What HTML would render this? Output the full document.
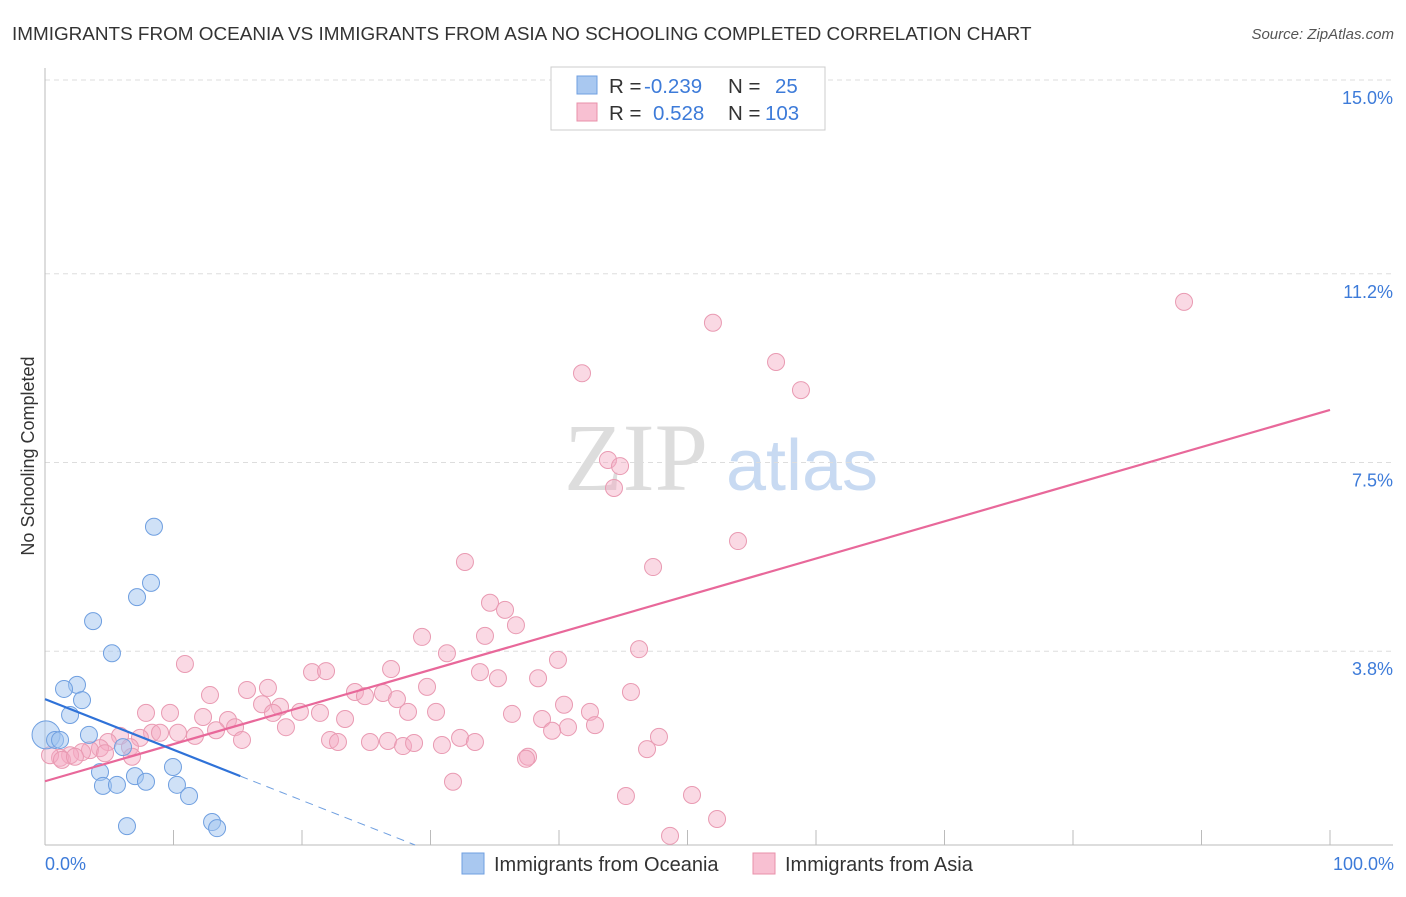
<!DOCTYPE html>
<html><head><meta charset="utf-8"><style>
body{margin:0;background:#fff;font-family:"Liberation Sans",sans-serif}
</style></head><body>
<svg width="1406" height="892" xmlns="http://www.w3.org/2000/svg" id="chart" font-family="Liberation Sans, sans-serif">
<text x="12" y="40" font-size="18.9" fill="#333">IMMIGRANTS FROM OCEANIA VS IMMIGRANTS FROM ASIA NO SCHOOLING COMPLETED CORRELATION CHART</text>
<text x="1394" y="39" font-size="15" fill="#555" font-style="italic" text-anchor="end">Source: ZipAtlas.com</text>
<g>
<text x="636" y="490" font-size="96" font-family="Liberation Serif, serif" fill="#ddd" text-anchor="middle">ZIP</text>
<text x="802" y="490" font-size="72" fill="#c8daf2" text-anchor="middle">atlas</text>
</g>
<g id="grid"></g><g id="axes"></g><g id="marks"></g>
<text transform="translate(34,456) rotate(-90)" font-size="18" fill="#333" text-anchor="middle">No Schooling Completed</text>
<text x="45" y="870" font-size="18" fill="#3d7bd9">0.0%</text>
<text x="1394" y="870" font-size="18" fill="#3d7bd9" text-anchor="end">100.0%</text>
<g>
<rect x="551" y="67" width="274" height="63" fill="#fff" stroke="#ccc"/>
<rect x="577" y="76" width="20" height="18" fill="#a9c8f0" stroke="#6f9fe0"/>
<rect x="577" y="103" width="20" height="18" fill="#f8c0d2" stroke="#e890aa"/>
<text x="609" y="93" font-size="20.5" fill="#333">R = <tspan x="644" fill="#3d7bd9">-0.239</tspan><tspan x="728">N = </tspan><tspan x="775" fill="#3d7bd9">25</tspan></text>
<text x="609" y="120" font-size="20.5" fill="#333">R = <tspan x="653" fill="#3d7bd9">0.528</tspan><tspan x="728">N = </tspan><tspan x="765" fill="#3d7bd9">103</tspan></text>
</g>
<g>
<rect x="462" y="853" width="22" height="21" fill="#a9c8f0" stroke="#6f9fe0"/>
<text x="494" y="871" font-size="20" fill="#333">Immigrants from Oceania</text>
<rect x="753" y="853" width="22" height="21" fill="#f8c0d2" stroke="#e890aa"/>
<text x="785" y="871" font-size="20" fill="#333">Immigrants from Asia</text>
</g>
</svg>
<script>
const yTicks=[3.8,7.5,11.2,15.0];
const yTickLabels=["3.8%","7.5%","11.2%","15.0%"];
const oceaniaX=[8.48,8.25,7.16,3.74,5.21,2.49,1.48,2.88,1.95,0.08,0.78,1.17,3.42,6.07,4.28,4.51,5.60,7.00,7.86,9.96,10.27,11.21,6.38,13.0,13.39];
const oceaniaY=[6.24,5.14,4.86,4.39,3.76,3.14,3.06,2.84,2.55,2.16,2.06,2.06,2.16,1.92,1.43,1.16,1.18,1.35,1.24,1.53,1.18,0.96,0.37,0.45,0.33];
const asiaX=[88.64,51.98,56.89,41.79,58.83,43.81,44.75,44.28,53.93,32.68,47.32,34.63,35.80,36.65,29.34,34.24,46.23,31.28,39.92,26.93,10.89,20.78,21.87,33.85,35.25,38.37,45.60,12.84,15.72,17.35,29.73,24.12,24.90,26.30,27.39,16.89,18.29,19.84,21.40,17.74,7.86,9.73,12.30,14.24,23.35,28.25,30.43,36.34,38.68,40.39,42.41,42.80,40.70,18.75,14.79,13.31,10.35,8.33,8.95,11.67,7.39,5.84,4.90,6.61,4.28,3.50,2.88,1.95,1.17,0.39,1.32,2.33,4.67,6.77,15.33,22.18,22.80,25.29,26.69,27.86,28.72,30.89,32.30,33.46,39.46,47.78,46.85,37.59,37.43,31.75,45.21,50.35,52.30,48.64];
const asiaY=[10.65,10.24,9.47,9.25,8.92,7.55,7.43,7.00,5.96,5.55,5.45,4.75,4.61,4.31,4.08,4.10,3.84,3.76,3.63,3.45,3.55,3.39,3.41,3.39,3.27,3.27,3.00,2.94,3.04,3.08,3.10,3.00,2.92,2.98,2.86,2.76,2.71,2.61,2.59,2.59,2.59,2.59,2.51,2.45,2.47,2.61,2.61,2.57,2.47,2.75,2.61,2.35,2.31,2.31,2.31,2.25,2.20,2.20,2.20,2.14,2.10,2.14,2.02,1.92,1.90,1.86,1.82,1.76,1.71,1.76,1.67,1.73,1.80,1.73,2.06,2.06,2.02,2.02,2.04,1.94,2.00,1.96,2.10,2.02,2.24,2.12,1.88,1.73,1.69,1.24,0.96,0.98,0.51,0.18];
const asiaTrend=[1.25,8.53];
const oceaniaTrend=[2.86,-0.0993];
const NS="http://www.w3.org/2000/svg";
const X=v=>45+v*12.85, Y=v=>845-v*51;
function mk(t,a,p){const e=document.createElementNS(NS,t);for(const k in a)e.setAttribute(k,a[k]);document.getElementById(p).appendChild(e);return e;}
yTicks.forEach((t,i)=>{
 const l=mk('line',{x1:45,x2:1393,y1:Y(t),y2:Y(t),stroke:'#ddd','stroke-dasharray':'5,4'},'grid');
 
 
 const tx=mk('text',{x:1393,y:Y(t)+24,'font-size':18,fill:'#3d7bd9','text-anchor':'end'},'grid');
 tx.textContent=yTickLabels[i];
 
 
});
let a=mk('line',{x1:45,x2:45,y1:68,y2:845,stroke:'#bbb'},'axes');


a=mk('line',{x1:45,x2:1393,y1:845,y2:845,stroke:'#bbb'},'axes');


for(let i=0;i<=10;i++){const t=mk('line',{x1:X(i*10),x2:X(i*10),y1:830,y2:845,stroke:'#bbb'},'axes');
 
 }
asiaX.forEach((x,i)=>{const c=mk('circle',{cx:X(x),cy:Y(asiaY[i]),r:8.5,fill:'rgba(245,170,195,0.45)',stroke:'#e99ab2','stroke-width':1},'marks');
 
 });
oceaniaX.forEach((x,i)=>{const c=mk('circle',{cx:X(x),cy:Y(oceaniaY[i]),r:i==9?14:8.5,fill:'rgba(160,195,240,0.5)',stroke:'#6f9fe0','stroke-width':1},'marks');
 
 });
let t=mk('line',{x1:X(0),y1:Y(asiaTrend[0]),x2:X(100),y2:Y(asiaTrend[1]),stroke:'#e8689a','stroke-width':2.2},'marks');


const ob=oceaniaTrend[0],os=oceaniaTrend[1];
t=mk('line',{x1:X(0),y1:Y(ob),x2:X(15.2),y2:Y(ob+os*15.2),stroke:'#2f72d8','stroke-width':2.2},'marks');


const xe=-ob/os;
t=mk('line',{x1:X(15.2),y1:Y(ob+os*15.2),x2:X(xe),y2:Y(0),stroke:'#6f9fe0','stroke-width':1,'stroke-dasharray':'8,6'},'marks');


</script>
</body></html>
